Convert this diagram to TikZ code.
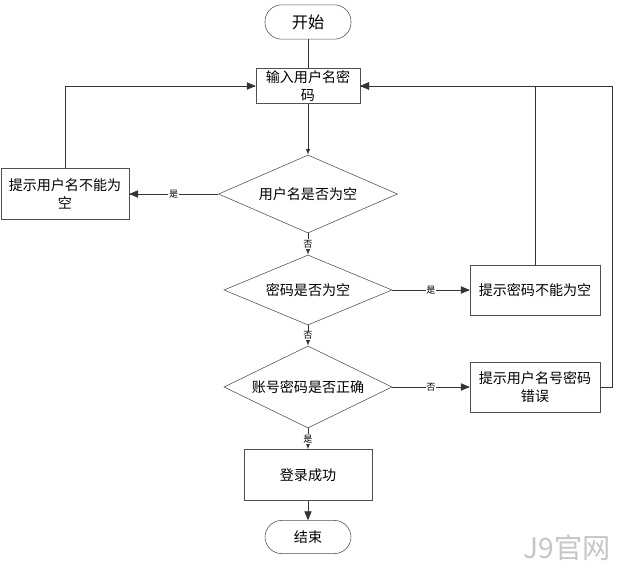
\documentclass[tikz,border=0pt]{standalone}
\usepackage{fontspec}
\setmainfont{Noto Sans CJK SC}
\usetikzlibrary{shapes.geometric, arrows}
\definecolor{linegray}{RGB}{80,80,80}
\tikzstyle{startstop} = [rectangle, rounded corners=0.42cm,
minimum width=2.15cm, minimum height=0.86cm, text centered,
draw=linegray]
\tikzstyle{process} = [rectangle, align=center, inner sep=2pt,
minimum width=3.2cm, minimum height=1.27cm, draw=linegray]
\tikzstyle{decision} = [diamond, aspect=2.3, inner sep=0pt,
minimum width=4.2cm, minimum height=1.75cm, draw=linegray]
\tikzstyle{yesno} = [fill=white, inner sep=0.5pt, font=\fontsize{6.5}{7}\selectfont]
\tikzstyle{arrow} = [draw=black!80, ->, >=latex]
\tikzstyle{bigarrow} = [draw=black!80, ->, >=triangle 45]

\begin{document}
\begin{tikzpicture}[x=0.025cm, y=-0.025cm, font=\fontsize{10}{13}\selectfont]
    \useasboundingbox (0,0) rectangle (627,574);

    % main column
    \node (start) [startstop, font=\fontsize{11.5}{13}\selectfont] at (308,22) {开始};
    \node (input) [process, minimum width=2.6cm, minimum height=0.875cm, inner sep=1pt] at (308,86) {输入用户名密\\码};
    \node (userEmpty) [decision, minimum width=4.475cm, minimum height=1.95cm] at (308,194) {用户名是否为空};
    \node (pwdEmpty) [decision] at (308,290) {密码是否为空};
    \node (checkPwd) [decision, minimum height=2.05cm] at (308,387) {账号密码是否正确};
    \node (success) [process] at (308,475) {登录成功};
    \node (stop) [startstop, minimum height=0.83cm] at (308,537) {结束};

    % prompt boxes
    \node (userTip) [process] at (65,194) {提示用户名不能为\\空};
    \node (pwdTip) [process, minimum width=3.25cm, minimum height=1.25cm] at (535,290) {提示密码不能为空};
    \node (errTip) [process, minimum width=3.25cm, minimum height=1.25cm] at (535,387) {提示用户名号密码\\错误};

    % watermark
    \node (mark) [text=gray!45, font=\fontsize{20}{20}\selectfont] at (567,548) {J9官网};

    \draw [draw=black!80] (start) -- (input);
    \draw [arrow] (input) -- (userEmpty);
    \draw [bigarrow] (userEmpty.west) -- node[yesno]{是} (userTip.east);
    \draw [bigarrow] (userTip.north) |- (input.west);
    \draw [arrow] (userEmpty.south) -- node[yesno]{否} (pwdEmpty.north);
    \draw [bigarrow] (pwdEmpty.east) -- node[yesno]{是} (pwdTip.west);
    \draw [bigarrow] (pwdTip.north) |- (input.east);
    \draw [arrow] (pwdEmpty.south) -- node[yesno]{否} (checkPwd.north);
    \draw [bigarrow] (checkPwd.east) -- node[yesno]{否} (errTip.west);
    \draw [bigarrow] (errTip.east) -- ++(12,0) |- (input.east);
    \draw [arrow] (checkPwd.south) -- node[yesno]{是} (success.north);
    \draw [bigarrow] (success) -- (stop);
\end{tikzpicture}
\end{document}
